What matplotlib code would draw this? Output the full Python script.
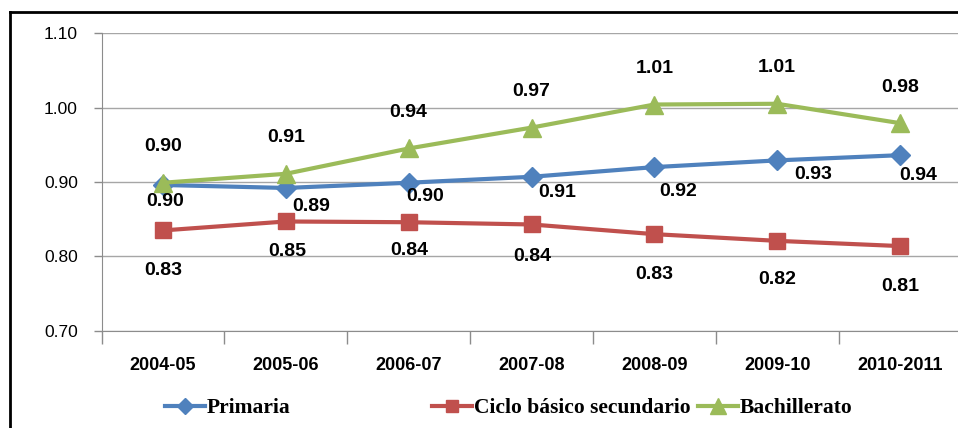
import matplotlib
matplotlib.use('Agg')
import matplotlib.pyplot as plt
from matplotlib.lines import Line2D

years = ["2004-05", "2005-06", "2006-07", "2007-08", "2008-09", "2009-10", "2010-2011"]
primaria = [0.896, 0.892, 0.899, 0.907, 0.920, 0.929, 0.936]
ciclo = [0.835, 0.847, 0.846, 0.843, 0.830, 0.821, 0.814]
bachillerato = [0.899, 0.911, 0.945, 0.973, 1.004, 1.005, 0.979]
primaria_lbl = ["0.90", "0.89", "0.90", "0.91", "0.92", "0.93", "0.94"]
ciclo_lbl = ["0.83", "0.85", "0.84", "0.84", "0.83", "0.82", "0.81"]
bach_lbl = ["0.90", "0.91", "0.94", "0.97", "1.01", "1.01", "0.98"]

# label offsets in pixels (dx right, dy down)
prim_off = [(2, 17), (25, 19), (16, 14), (26, 16), (24, 24), (36, 14), (18, 20)]
ciclo_off = [(0, 40), (1, 30), (1, 28), (1, 32), (0, 40), (0, 39), (0, 40)]
bach_off = [(0, -36)] * 7

SANS = "Liberation Sans"
SERIF = "Liberation Serif"

BLUE = "#4F81BD"
RED = "#C0504D"
GREEN = "#9BBB59"
GRID = "#A6A6A6"

W, H = 958, 428
fig = plt.figure(figsize=(W / 100, H / 100), dpi=100)
ax = fig.add_axes([101.6 / W, 1 - 331 / H, 859.8 / W, 298 / H])

x = list(range(len(years)))
l1, = ax.plot(x, primaria, color=BLUE, lw=3, marker="D", ms=10, zorder=3)
l2, = ax.plot(x, ciclo, color=RED, lw=3, marker="s", ms=11, zorder=3)
l3, = ax.plot(x, bachillerato, color=GREEN, lw=3, marker="^", ms=13, zorder=3)

for vals, lbls, offs in [(primaria, primaria_lbl, prim_off),
                         (ciclo, ciclo_lbl, ciclo_off),
                         (bachillerato, bach_lbl, bach_off)]:
    for i, (v, t) in enumerate(zip(vals, lbls)):
        dx, dy = offs[i]
        ax.annotate(t, (i, v), xytext=(dx, -dy), textcoords="offset pixels",
                    ha="center", va="center", fontsize=14, fontweight="bold",
                    family=SANS, color="black", zorder=4)

ax.set_xlim(-0.5, len(years) - 0.5)
ax.set_ylim(0.70, 1.10)
ax.set_yticks([0.70, 0.80, 0.90, 1.00, 1.10])
ax.set_yticklabels(["0.70", "0.80", "0.90", "1.00", "1.10"], family=SANS, fontsize=12.5)
ax.set_xticks(x)
ax.set_xticklabels(years, family=SANS, fontsize=13, fontweight="bold")
ax.set_xticks([i - 0.5 for i in range(len(years) + 1)], minor=True)
ax.tick_params(axis="x", which="major", length=0, pad=19)
ax.tick_params(axis="x", which="minor", length=9, color="#8C8C8C", width=1)
ax.tick_params(axis="y", length=6, color="#8C8C8C", width=1, pad=11)
ax.yaxis.grid(True, color=GRID, lw=1)
ax.set_axisbelow(True)
for s in ["top", "right"]:
    ax.spines[s].set_visible(False)
ax.spines["left"].set_color("#8C8C8C")
ax.spines["bottom"].set_color("#8C8C8C")

# black frame (cropped at right and bottom)
fig.add_artist(Line2D([10 / W, 10 / W], [0, 1 - 12 / H], color="black", lw=2))
fig.add_artist(Line2D([10 / W, 1], [1 - 12 / H, 1 - 12 / H], color="black", lw=2))

ly = 1 - 408 / H
for handle, label, xs in [(l1, "Primaria", 165), (l2, "Ciclo básico secundario", 432),
                          (l3, "Bachillerato", 698)]:
    lg = fig.legend([handle], [label], loc="center left", bbox_to_anchor=(xs / W, ly),
                    frameon=False, borderpad=0, borderaxespad=0, handlelength=1.85,
                    handletextpad=0.1, markerscale=0.85,
                    prop={"family": SERIF, "weight": "bold", "size": 15.5})

fig.savefig("out.png", dpi=100)
